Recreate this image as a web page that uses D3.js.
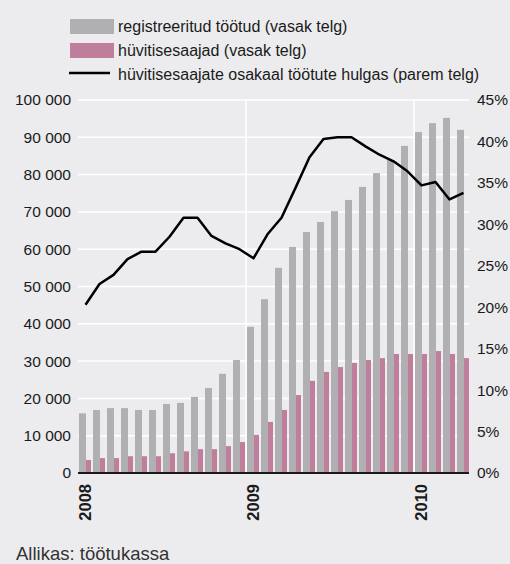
<!DOCTYPE html>
<html><head><meta charset="utf-8">
<script src="https://cdn.jsdelivr.net/npm/d3@7"></script>
<style>
html,body{margin:0;padding:0;background:#ececee;}
svg{display:block;font-family:"Liberation Sans",Arial,Helvetica,sans-serif;}
</style></head>
<body>
<script>
const months = d3.range(28).map(i => new Date(2008, i, 1));
const registered = [16000,16900,17400,17400,16900,16900,18500,18800,20400,22800,26600,30300,
  39200,46600,55000,60600,64600,67300,70200,73200,76700,80400,83900,87700,91400,93800,95200,92000];
const recipients = [3500,4000,4000,4500,4500,4500,5300,5800,6400,6400,7200,8300,
  10200,13700,16900,20900,24700,27100,28400,29500,30300,30800,31900,31900,31900,32700,31900,30800];
const share = [20.3,22.8,23.9,25.8,26.7,26.7,28.5,30.8,30.8,28.6,27.7,27.0,
  25.9,28.8,30.8,34.4,38.1,40.3,40.5,40.5,39.4,38.4,37.6,36.4,34.7,35.1,33.0,33.8];
const leftTicks = [0,10000,20000,30000,40000,50000,60000,70000,80000,90000,100000];
const rightTicks = [0,5,10,15,20,25,30,35,40,45];
const yearLabels = ["2008","2009","2010"];
const legendLabels = ["registreeritud töötud (vasak telg)","hüvitisesaajad (vasak telg)","hüvitisesaajate osakaal töötute hulgas (parem telg)"];
const sourceText = "Allikas: töötukassa";

const W = 510, H = 564;
const m = {left:78, right:469, top:100, bottom:473};
const svg = d3.select("body").append("svg").attr("width",W).attr("height",H);
svg.append("rect").attr("width",W).attr("height",H).attr("fill","#ececee");

const x = d3.scaleBand().domain(d3.range(28)).range([m.left, m.left + 28*14]).paddingInner(0).paddingOuter(0);
const yL = d3.scaleLinear().domain([0,100000]).range([m.bottom, m.top]);
const yR = d3.scaleLinear().domain([0,45]).range([m.bottom, m.top]);
const fmt = v => d3.format(",")(v).replace(/,/g," ");

// gridlines
svg.append("g").selectAll("line").data(leftTicks.slice(1)).join("line")
  .attr("x1",m.left).attr("x2",m.right).attr("y1",d=>yL(d)).attr("y2",d=>yL(d))
  .attr("stroke","#ffffff").attr("stroke-width",1.5);
// year separators
svg.append("g").selectAll("line").data([12,24]).join("line")
  .attr("x1",d=>x(d)).attr("x2",d=>x(d)).attr("y1",m.top).attr("y2",m.bottom)
  .attr("stroke","#ffffff").attr("stroke-width",1.5);

// bars
svg.append("g").selectAll("rect").data(registered).join("rect")
  .attr("x",(d,i)=>x(i)+1).attr("width",7)
  .attr("y",d=>yL(d)).attr("height",d=>m.bottom-yL(d)).attr("fill","#b0b0b2");
svg.append("g").selectAll("rect").data(recipients).join("rect")
  .attr("x",(d,i)=>x(i)+8).attr("width",5)
  .attr("y",d=>yL(d)).attr("height",d=>m.bottom-yL(d)).attr("fill","#bf7f9c");

// baseline
svg.append("line").attr("x1",m.left).attr("x2",m.right).attr("y1",m.bottom).attr("y2",m.bottom)
  .attr("stroke","#1a1a1a").attr("stroke-width",2);

// line
const line = d3.line().x((d,i)=>x(i)+x.bandwidth()/2+0.5).y(d=>yR(d));
svg.append("path").datum(share).attr("d",line).attr("fill","none")
  .attr("stroke","#000").attr("stroke-width",2.5).attr("stroke-linejoin","round");

// left axis
const axL = d3.axisLeft(yL).tickValues(leftTicks).tickFormat(fmt).tickSize(0).tickPadding(7);
const gL = svg.append("g").attr("transform",`translate(${m.left},0)`).call(axL);
gL.select(".domain").remove();
gL.selectAll("text").attr("font-size",15.5).attr("fill","#1a1a1a").attr("font-family","Liberation Sans, Arial, sans-serif");

// right axis
const axR = d3.axisRight(yR).tickValues(rightTicks).tickFormat(d=>d+"%").tickSize(0).tickPadding(8);
const gR = svg.append("g").attr("transform",`translate(${m.right},0)`).call(axR);
gR.select(".domain").remove();
gR.selectAll("text").attr("font-size",15.5).attr("fill","#1a1a1a").attr("font-family","Liberation Sans, Arial, sans-serif");

// year labels
svg.append("g").selectAll("text").data(yearLabels).join("text")
  .attr("transform",(d,i)=>`translate(${x(i*12)+x.bandwidth()/2+6},484) rotate(-90)`)
  .attr("text-anchor","end").attr("font-size",16.5).attr("font-weight","bold").attr("fill","#1a1a1a")
  .text(d=>d);

// legend
const lg = svg.append("g");
lg.append("rect").attr("x",70).attr("y",19).attr("width",44).attr("height",15).attr("fill","#b0b0b2");
lg.append("rect").attr("x",70).attr("y",43).attr("width",44).attr("height",15).attr("fill","#bf7f9c");
lg.append("line").attr("x1",69).attr("x2",110).attr("y1",73).attr("y2",73).attr("stroke","#000").attr("stroke-width",2.5);
lg.selectAll("text").data(legendLabels).join("text")
  .attr("x",118).attr("y",(d,i)=>26+i*24).attr("dy","0.35em")
  .attr("font-size",16).attr("fill","#1a1a1a").text(d=>d);

svg.append("text").attr("x",16).attr("y",560).attr("font-size",18.5).attr("fill","#333").text(sourceText);
</script>
</body></html>
